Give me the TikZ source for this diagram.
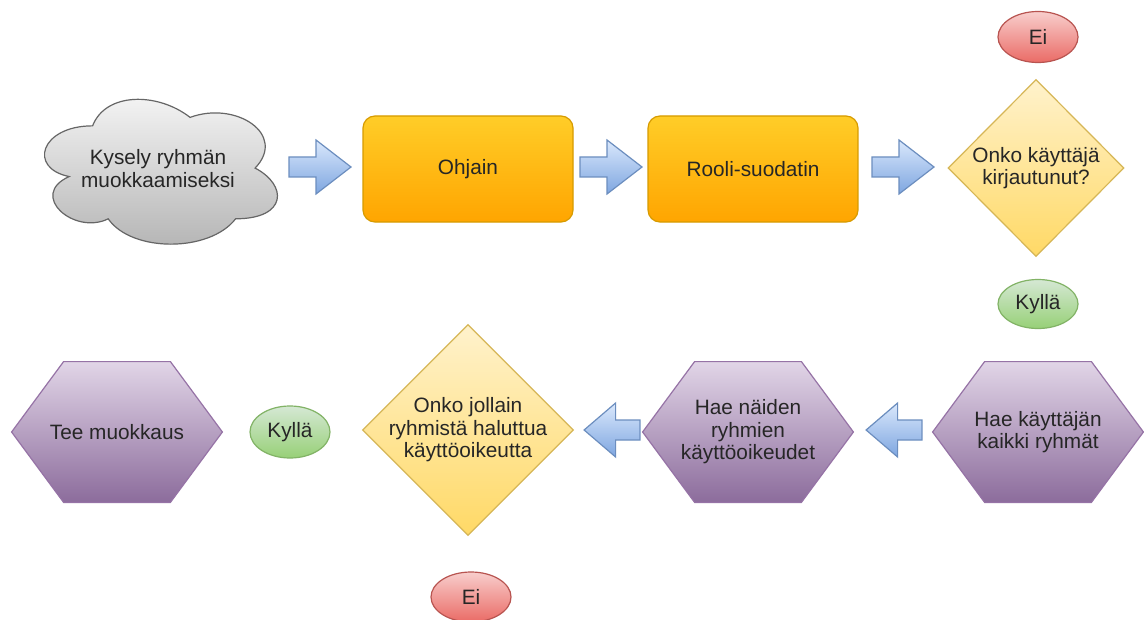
\documentclass[tikz,border=0pt]{standalone}
\usepackage{fontspec}
\setmainfont{Liberation Sans}
\usetikzlibrary{shapes.geometric}

\definecolor{txtc}{HTML}{262626}
\definecolor{grayT}{HTML}{F5F5F5}\definecolor{grayB}{HTML}{B3B3B3}\definecolor{grayS}{HTML}{666666}
\definecolor{orT}{HTML}{FFCD28}\definecolor{orB}{HTML}{FFA500}\definecolor{orS}{HTML}{D79B00}
\definecolor{yeT}{HTML}{FFF2CC}\definecolor{yeB}{HTML}{FFD966}\definecolor{yeS}{HTML}{D6B656}
\definecolor{puT}{HTML}{E1D5E7}\definecolor{puB}{HTML}{8C6C9C}\definecolor{puS}{HTML}{9673A6}
\definecolor{reT}{HTML}{F8CECC}\definecolor{reB}{HTML}{EA6B66}\definecolor{reS}{HTML}{B85450}
\definecolor{grT}{HTML}{D5E8D4}\definecolor{grB}{HTML}{97D077}\definecolor{grS}{HTML}{82B366}
\definecolor{blT}{HTML}{DAE8FC}\definecolor{blB}{HTML}{7EA6E0}\definecolor{blS}{HTML}{6C8EBF}

\begin{document}
\begin{tikzpicture}[x=0.5pt,y=-0.5pt,
  txt/.style={font=\fontsize{10.4}{11.2}\selectfont, text=txtc, align=center, inner sep=0pt},
  holder/.style={rectangle, draw=none, inner sep=0pt},
  procbox/.style={txt, rectangle, rounded corners=6pt, draw=orS, line width=0.6pt,
    top color=orT, bottom color=orB, minimum width=105pt, minimum height=53pt},
  decision/.style={diamond, draw=yeS, line width=0.6pt, top color=yeT, bottom color=yeB,
    inner sep=0pt},
  hexfill/.style={draw=puS, line width=0.6pt, top color=puT, bottom color=puB},
  cloudfill/.style={draw=grayS, line width=0.6pt, top color=grayT, bottom color=grayB},
  answer/.style={txt, ellipse, line width=0.6pt, minimum width=40pt, minimum height=25pt},
  noans/.style={answer, draw=reS, top color=reT, bottom color=reB},
  yesans/.style={answer, draw=grS, top color=grT, bottom color=grB},
  blockarrow/.pic={\path[draw=blS, line width=0.6pt, top color=blT, bottom color=blB]
    (-31,-10) -- (-4,-10) -- (-4,-27) -- (31,0) -- (-4,27) -- (-4,10) -- (-31,10) -- cycle;},
]
\useasboundingbox[fill=white] (0,0) rectangle (1144,620);

% ---- top row ----
\node[holder, minimum width=130pt, minimum height=84.5pt] (cloud) at (158,168.5) {};
\begin{scope}[shift={(cloud.north west)}, x=130pt, y=-84.5pt]
  \path[cloudfill] (0.25,0.25)
    .. controls (0.05,0.25) and (0,0.5) .. (0.16,0.55)
    .. controls (0,0.66) and (0.18,0.9) .. (0.31,0.8)
    .. controls (0.4,1) and (0.7,1) .. (0.8,0.8)
    .. controls (1,0.8) and (1,0.6) .. (0.875,0.5)
    .. controls (1,0.3) and (0.8,0.1) .. (0.625,0.2)
    .. controls (0.5,0.05) and (0.3,0.05) .. (0.25,0.25) -- cycle;
\end{scope}
\node[txt] (cloudtxt) at (cloud) {Kysely ryhmän\\muokkaamiseksi};

\pic at (320,167) {blockarrow};
\node[procbox] (ohjain) at (468,169) {Ohjain};
\pic at (611,167) {blockarrow};
\node[procbox] (rooli) at (753,169) {Rooli-suodatin};
\pic at (903,167) {blockarrow};

\node[decision, minimum width=88pt, minimum height=88.5pt] (login) at (1036,168) {};
\node[txt] (logintxt) at (login) {Onko käyttäjä\\kirjautunut?};
\node[noans, minimum height=25.5pt] (ei1) at (1038,37) {Ei};
\node[yesans, minimum height=24.5pt] (kylla1) at (1038,304) {Kyllä};

% ---- bottom row ----
\foreach \n/\cx in {edit/117, rights/748, groups/1038}{
  \node[holder, minimum width=105pt, minimum height=70pt] (\n) at (\cx,432) {};
  \path[hexfill] (\n.west) -- ([xshift=26pt]\n.north west) -- ([xshift=-26pt]\n.north east)
    -- (\n.east) -- ([xshift=-26pt]\n.south east) -- ([xshift=26pt]\n.south west) -- cycle;
}
\node[txt] (edittxt) at (edit) {Tee muokkaus};
\node[txt] (rightstxt) at (rights) {Hae näiden\\ryhmien\\käyttöoikeudet};
\node[txt] (groupstxt) at (groups) {Hae käyttäjän\\kaikki ryhmät};

\pic[xscale=-0.9] at (612,430) {blockarrow};
\pic[xscale=-0.9] at (894,430) {blockarrow};

\node[decision, minimum width=105.5pt, minimum height=105.5pt] (access) at (468,430) {};
\node[txt] (accesstxt) at (access) {Onko jollain\\ryhmistä haluttua\\käyttöoikeutta};
\node[yesans, minimum height=26pt] (kylla2) at (290,432) {Kyllä};
\node[noans] (ei2) at (471,597) {Ei};
\end{tikzpicture}
\end{document}
